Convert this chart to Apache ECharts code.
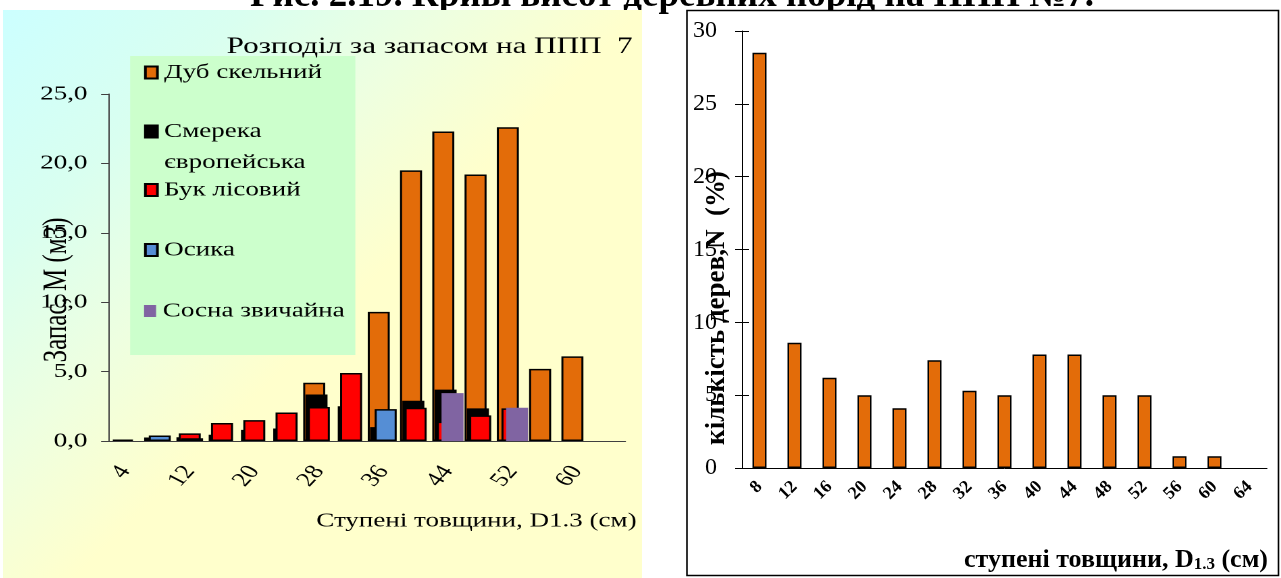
<!DOCTYPE html>
<html><head><meta charset="utf-8">
<script src="https://cdn.jsdelivr.net/npm/echarts@6/dist/echarts.min.js"></script>
<style>
html,body{margin:0;padding:0;background:#fff;width:1281px;height:578px;overflow:hidden;}
#main{position:absolute;left:0;top:0;width:1281px;height:578px;}
#panel{position:absolute;left:3px;top:10px;width:639px;height:568px;overflow:hidden;
 background:linear-gradient(135deg,#ccffff 0%,#d9fff0 20%,#eeffe0 37%,#ffffcc 53%,#ffffcc 100%);}
#left{position:absolute;left:0;top:0;width:473px;height:568px;transform:scaleX(1.351);transform-origin:0 0;}
</style></head>
<body>
<div id="main"></div>
<div id="panel"><div id="left"></div></div>
<script>
// ---------- data: left chart (stock by diameter class) ----------
const leftCategories = ['4','8','12','16','20','24','28','32','36','40','44','48','52','56','60','64'];
const leftSeriesNames = ['Дуб скельний','Смерека європейська','Бук лісовий','Осика','Сосна звичайна'];
const dubValues     = [null,null,null,null,null,null,4.2,null,9.3,19.5,22.3,19.2,22.6,5.2,6.1,null];
const smerekaValues = [0.1,0.25,0.27,0.45,0.8,0.9,3.35,2.5,1.0,2.9,3.7,2.35,null,null,null,null];
const bukValues     = [null,null,0.55,1.3,1.5,2.05,2.45,4.9,null,2.4,1.4,1.85,2.35,null,null,null];
const osykaValues   = [null,0.4,0.2,null,null,null,null,null,2.3,null,null,null,null,null,null,null];
const sosnaValues   = [null,null,null,null,null,null,null,null,null,null,3.45,null,2.4,null,null,null];
const leftColors = ['#e36c09','#000000','#ff0000','#558ed5','#8064a2'];
const leftTicks = [0,5,10,15,20,25];

// ---------- data: right chart (number of trees, %) ----------
const rightCategories = ['8','12','16','20','24','28','32','36','40','44','48','52','56','60','64'];
const rightValues = [28.5,8.6,6.2,5.0,4.1,7.4,5.3,5.0,7.8,7.8,5.0,5.0,0.8,0.8,null];
const rightTicks = [0,5,10,15,20,25,30];

const serif = "'Liberation Serif','Times New Roman',serif";

// ---------- main (right) chart ----------
const main = echarts.init(document.getElementById('main'), null, {renderer:'canvas'});
main.setOption({
  animation:false,
  grid:{left:742, top:31, width:525, height:437},
  xAxis:[{
    type:'category', data:rightCategories, z:3,
    axisLine:{lineStyle:{color:'#000', width:1}},
    axisTick:{length:7, interval:0, lineStyle:{color:'#000'}},
    axisLabel:{interval:0, rotate:45, margin:16, fontFamily:serif, fontWeight:'bold', fontSize:18, color:'#000'}
  },{
    type:'category', data:rightCategories, position:'bottom', z:3,
    axisLine:{show:false}, axisLabel:{show:false},
    axisTick:{inside:true, length:7, interval:0, lineStyle:{color:'#000'}}
  }],
  yAxis:[{
    type:'value', position:'left', min:rightTicks[0], max:rightTicks[rightTicks.length-1], interval:5, z:3,
    splitLine:{show:false},
    axisLine:{show:true, lineStyle:{color:'#000', width:1}},
    axisTick:{show:true, length:7, lineStyle:{color:'#000'}},
    axisLabel:{margin:25, fontFamily:serif, fontSize:24, color:'#000'}
  },{
    type:'value', position:'left', offset:0, min:rightTicks[0], max:rightTicks[rightTicks.length-1], interval:5, z:3,
    splitLine:{show:false}, axisLine:{show:false}, axisLabel:{show:false},
    axisTick:{show:true, inside:true, length:7, lineStyle:{color:'#000'}}
  }],
  series:[{
    type:'bar', data:rightValues, xAxisIndex:0, yAxisIndex:0, barWidth:14, z:2,
    itemStyle:{color:'#e36c09', borderColor:'#000', borderWidth:1.5}
  }],
  graphic:[
    {type:'text', x:672, y:-3.5, z:0,
     style:{text:'Рис. 2.19. Криві висот деревних порід на ППП №7.', fontFamily:serif, fontWeight:'bold', fontSize:37, fill:'#000', align:'center', verticalAlign:'middle'}},
    {type:'rect', z:1, shape:{x:687, y:10.5, width:591.5, height:565}, style:{fill:'#fff', stroke:'#000', lineWidth:1.6}},
    {type:'text', x:717, y:308, rotation:Math.PI/2, z:4,
     style:{text:'кількість дерев,N  (%)', fontFamily:serif, fontWeight:'bold', fontSize:27, fill:'#000', align:'center', verticalAlign:'middle'}},
    {type:'text', x:1268, y:560, z:4,
     style:{text:'{a|ступені товщини, D}{s|1.3}{a| (см)}', align:'right', verticalAlign:'middle',
       rich:{a:{fontFamily:serif, fontWeight:'bold', fontSize:26, fill:'#000'},
             s:{fontFamily:serif, fontWeight:'bold', fontSize:17, fill:'#000', padding:[10,0,0,0]}}}}
  ]
});

// ---------- left chart (drawn narrow, stretched horizontally by CSS) ----------
const left = echarts.init(document.getElementById('left'), null, {renderer:'canvas', devicePixelRatio:2});
const legendCenters = [62.5, 121.5, 180, 240, 301];
const leftData = [dubValues, smerekaValues, bukValues, osykaValues, sosnaValues];
left.setOption({
  animation:false,
  grid:{left:78.5, top:84, width:382.2, height:347},
  legend: leftSeriesNames.map((n,i)=>{
    const two = (i===1);
    return {
      data:[n], orient:'vertical', left:104.4, top: two ? legendCenters[i]-46.5 : legendCenters[i]-10,
      padding:0, itemWidth:8.9, itemHeight:12, icon:'rect', selectedMode:false, z:5,
      formatter: two ? '\nСмерека\nєвропейська' : '{name}',
      textStyle:{fontFamily:serif, fontSize:20, color:'#000', lineHeight: two?31:20}
    };
  }),
  xAxis:{
    type:'category', data:leftCategories,
    axisLine:{lineStyle:{color:'#404040', width:1}},
    axisTick:{length:8, interval:0, lineStyle:{color:'#404040'}},
    axisLabel:{interval:1, rotate:55, margin:27, fontFamily:serif, fontSize:20, color:'#000'}
  },
  yAxis:{
    type:'value', min:leftTicks[0], max:leftTicks[leftTicks.length-1], interval:5,
    splitLine:{show:false},
    axisLine:{show:true, lineStyle:{color:'#404040', width:1}},
    axisTick:{show:true, length:5.9, lineStyle:{color:'#404040'}},
    axisLabel:{margin:16, fontFamily:serif, fontSize:20, color:'#000',
      formatter:v=>v.toFixed(1).replace('.',',')}
  },
  series: leftSeriesNames.map((n,i)=>({
    type:'bar', name:n, data:leftData[i], barWidth:16.3, barGap:'-89.5%',
    itemStyle:{color:leftColors[i], borderColor:'#000', borderWidth: i===4 ? 0 : 1.5}
  })),
  graphic:[
    {type:'rect', z:0, shape:{x:94.1, y:46, width:166.7, height:299}, style:{fill:'#ccffcc'}},
    {type:'text', x:466, y:37, z:4,
     style:{text:'Розподіл за запасом на ППП  7', fontFamily:serif, fontSize:23, fill:'#000', align:'right', verticalAlign:'middle'}},
    {type:'text', x:469, y:511, z:4,
     style:{text:'Ступені товщини, D1.3 (см)', fontFamily:serif, fontSize:20, fill:'#000', align:'right', verticalAlign:'middle'}},
    {type:'text', x:40, y:280, rotation:Math.PI/2, z:4,
     style:{text:'Запас, М (м3)', fontFamily:serif, fontSize:25, fill:'#000', align:'center', verticalAlign:'middle'}}
  ]
});
</script>
</body></html>
